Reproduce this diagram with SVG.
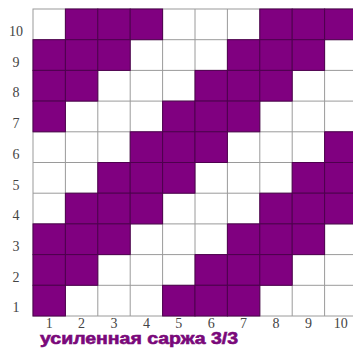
<svg xmlns="http://www.w3.org/2000/svg" width="353" height="349" viewBox="0 0 353 349">
<style>
.g{stroke:#9a9a9a;stroke-width:1}
.p{fill:#800080;stroke:#4e004e;stroke-width:1}
.n{font-family:"Liberation Serif","DejaVu Serif",serif;font-size:14px;fill:#444444;text-anchor:middle}
.t{font-family:"Liberation Sans",Arial,sans-serif;font-size:16px;font-weight:bold;fill:#7a087a;stroke:#7a087a;stroke-width:0.6}
</style>
<rect x="0" y="0" width="353" height="349" fill="#ffffff"/>
<g id="grid">
<rect x="33" y="9" width="324" height="307" fill="#ffffff" class="g"/>
<path class="g" fill="none" d="M65.4 9V316M97.8 9V316M130.2 9V316M162.6 9V316M195 9V316M227.4 9V316M259.8 9V316M292.2 9V316M324.6 9V316M33 39.7H357M33 70.4H357M33 101.1H357M33 131.8H357M33 162.5H357M33 193.2H357M33 223.9H357M33 254.6H357M33 285.3H357"/>
</g>
<g id="cells">
<!-- row 10 -->
<rect class="p" x="65.4" y="9" width="32.4" height="30.7"/>
<rect class="p" x="97.8" y="9" width="32.4" height="30.7"/>
<rect class="p" x="130.2" y="9" width="32.4" height="30.7"/>
<rect class="p" x="259.8" y="9" width="32.4" height="30.7"/>
<rect class="p" x="292.2" y="9" width="32.4" height="30.7"/>
<rect class="p" x="324.6" y="9" width="32.4" height="30.7"/>
<!-- row 9 -->
<rect class="p" x="33" y="39.7" width="32.4" height="30.7"/>
<rect class="p" x="65.4" y="39.7" width="32.4" height="30.7"/>
<rect class="p" x="97.8" y="39.7" width="32.4" height="30.7"/>
<rect class="p" x="227.4" y="39.7" width="32.4" height="30.7"/>
<rect class="p" x="259.8" y="39.7" width="32.4" height="30.7"/>
<rect class="p" x="292.2" y="39.7" width="32.4" height="30.7"/>
<!-- row 8 -->
<rect class="p" x="33" y="70.4" width="32.4" height="30.7"/>
<rect class="p" x="65.4" y="70.4" width="32.4" height="30.7"/>
<rect class="p" x="195" y="70.4" width="32.4" height="30.7"/>
<rect class="p" x="227.4" y="70.4" width="32.4" height="30.7"/>
<rect class="p" x="259.8" y="70.4" width="32.4" height="30.7"/>
<!-- row 7 -->
<rect class="p" x="33" y="101.1" width="32.4" height="30.7"/>
<rect class="p" x="162.6" y="101.1" width="32.4" height="30.7"/>
<rect class="p" x="195" y="101.1" width="32.4" height="30.7"/>
<rect class="p" x="227.4" y="101.1" width="32.4" height="30.7"/>
<!-- row 6 -->
<rect class="p" x="130.2" y="131.8" width="32.4" height="30.7"/>
<rect class="p" x="162.6" y="131.8" width="32.4" height="30.7"/>
<rect class="p" x="195" y="131.8" width="32.4" height="30.7"/>
<rect class="p" x="324.6" y="131.8" width="32.4" height="30.7"/>
<!-- row 5 -->
<rect class="p" x="97.8" y="162.5" width="32.4" height="30.7"/>
<rect class="p" x="130.2" y="162.5" width="32.4" height="30.7"/>
<rect class="p" x="162.6" y="162.5" width="32.4" height="30.7"/>
<rect class="p" x="292.2" y="162.5" width="32.4" height="30.7"/>
<rect class="p" x="324.6" y="162.5" width="32.4" height="30.7"/>
<!-- row 4 -->
<rect class="p" x="65.4" y="193.2" width="32.4" height="30.7"/>
<rect class="p" x="97.8" y="193.2" width="32.4" height="30.7"/>
<rect class="p" x="130.2" y="193.2" width="32.4" height="30.7"/>
<rect class="p" x="259.8" y="193.2" width="32.4" height="30.7"/>
<rect class="p" x="292.2" y="193.2" width="32.4" height="30.7"/>
<rect class="p" x="324.6" y="193.2" width="32.4" height="30.7"/>
<!-- row 3 -->
<rect class="p" x="33" y="223.9" width="32.4" height="30.7"/>
<rect class="p" x="65.4" y="223.9" width="32.4" height="30.7"/>
<rect class="p" x="97.8" y="223.9" width="32.4" height="30.7"/>
<rect class="p" x="227.4" y="223.9" width="32.4" height="30.7"/>
<rect class="p" x="259.8" y="223.9" width="32.4" height="30.7"/>
<rect class="p" x="292.2" y="223.9" width="32.4" height="30.7"/>
<!-- row 2 -->
<rect class="p" x="33" y="254.6" width="32.4" height="30.7"/>
<rect class="p" x="65.4" y="254.6" width="32.4" height="30.7"/>
<rect class="p" x="195" y="254.6" width="32.4" height="30.7"/>
<rect class="p" x="227.4" y="254.6" width="32.4" height="30.7"/>
<rect class="p" x="259.8" y="254.6" width="32.4" height="30.7"/>
<!-- row 1 -->
<rect class="p" x="33" y="285.3" width="32.4" height="30.7"/>
<rect class="p" x="162.6" y="285.3" width="32.4" height="30.7"/>
<rect class="p" x="195" y="285.3" width="32.4" height="30.7"/>
<rect class="p" x="227.4" y="285.3" width="32.4" height="30.7"/>
</g>
<g id="row-labels">
<text class="n" x="16" y="36">10</text>
<text class="n" x="16" y="66.7">9</text>
<text class="n" x="16" y="97.4">8</text>
<text class="n" x="16" y="128.1">7</text>
<text class="n" x="16" y="158.8">6</text>
<text class="n" x="16" y="189.5">5</text>
<text class="n" x="16" y="220.2">4</text>
<text class="n" x="16" y="250.9">3</text>
<text class="n" x="16" y="281.6">2</text>
<text class="n" x="16" y="312.3">1</text>
</g>
<g id="col-labels">
<text class="n" x="49.2" y="328">1</text>
<text class="n" x="81.6" y="328">2</text>
<text class="n" x="114" y="328">3</text>
<text class="n" x="146.4" y="328">4</text>
<text class="n" x="178.8" y="328">5</text>
<text class="n" x="211.2" y="328">6</text>
<text class="n" x="243.6" y="328">7</text>
<text class="n" x="276" y="328">8</text>
<text class="n" x="308.4" y="328">9</text>
<text class="n" x="340.8" y="328">10</text>
</g>
<text class="t" x="40" y="344" textLength="198" lengthAdjust="spacingAndGlyphs">усиленная саржа 3/3</text>
</svg>
